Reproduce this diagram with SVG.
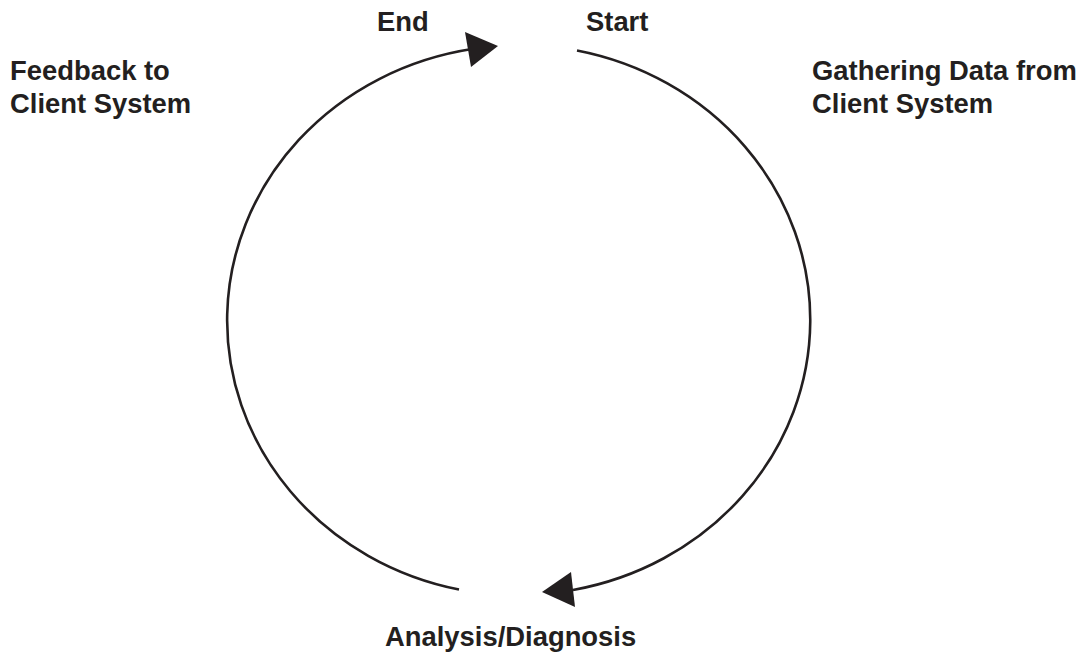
<svg xmlns="http://www.w3.org/2000/svg" width="1086" height="654" viewBox="0 0 1086 654">
  <style>
    .label { font-family: "Liberation Sans", Arial, Helvetica, sans-serif; font-weight: bold; font-size: 27.4px; fill: #231f20; }
    .arc { fill: none; stroke: #231f20; stroke-width: 2.6; }
    .head { fill: #231f20; stroke: none; }
  </style>
  <rect width="1086" height="654" fill="#ffffff"/>

  <!-- cycle arcs with arrowheads -->
  <g id="connectors">
    <path class="arc" d="M577,50.5 A292,275 0 0 1 573,590"/>
    <polygon class="head" points="542,592 571,572 575,607"/>
    <path class="arc" d="M459,589.5 A292,275 0 0 1 472,49"/>
    <polygon class="head" points="498,46 465,32 471,67"/>
  </g>

  <g id="start"><text class="label" x="586" y="31">Start</text></g>
  <g id="end"><text class="label" x="377" y="31">End</text></g>
  <g id="gathering">
    <text class="label" x="812" y="80">Gathering Data from</text>
    <text class="label" x="812" y="113">Client System</text>
  </g>
  <g id="analysis"><text class="label" x="385" y="646">Analysis/Diagnosis</text></g>
  <g id="feedback">
    <text class="label" x="10" y="80">Feedback to</text>
    <text class="label" x="10" y="113">Client System</text>
  </g>
</svg>
